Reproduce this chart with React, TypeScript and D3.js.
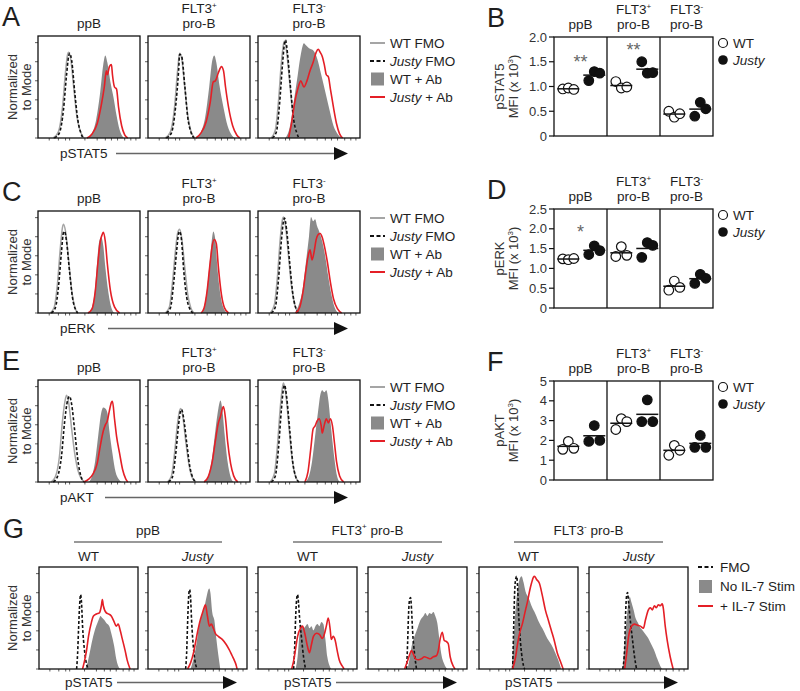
import React from 'react';
import * as d3 from 'd3';

type Pt = [number, number];

const FONT = "'Liberation Sans', Arial, Helvetica, sans-serif";
const INK = '#1e1e1e';
const FILL_GREY = '#8a8a8a';
const FMO_GREY = '#a5a5a5';
const RED = '#e41f26';

// ---------- Histogram data: [channel (0-100 across plot), % of mode (0-100 of plot height)] ----------
// Panel A (pSTAT5)
const aPpbWtFmo: Pt[] = [[15,0],[20,6],[24,30],[27,65],[29,82],[30,84],[32,78],[35,50],[38,22],[41,8],[45,0]];
const aPpbJuFmo: Pt[] = [[16,0],[21,5],[25,28],[28,62],[30,80],[31,83],[33,76],[36,45],[39,18],[42,5],[44,0]];
const aPpbWtAb: Pt[] = [[48,0],[53,5],[57,18],[61,45],[64,72],[66,81],[68,74],[71,55],[74,40],[77,22],[80,8],[84,0]];
const aPpbJuAb: Pt[] = [[48,0],[53,4],[58,14],[62,32],[65,50],[67,66],[68,62],[70,70],[72,72],[73,62],[75,50],[77,48],[79,30],[82,12],[85,3],[88,0]];
const aFltpWtFmo: Pt[] = [[17,0],[22,6],[26,30],[29,66],[31,83],[33,78],[36,50],[39,22],[42,7],[46,0]];
const aFltpJuFmo: Pt[] = [[18,0],[23,5],[27,30],[30,66],[31,82],[33,80],[36,52],[39,20],[42,6],[45,0]];
const aFltpWtAb: Pt[] = [[47,0],[52,6],[56,20],[60,50],[63,76],[65,81],[67,74],[70,52],[74,30],[78,12],[82,3],[85,0]];
const aFltpJuAb: Pt[] = [[47,0],[52,5],[57,16],[61,35],[64,55],[66,56],[69,64],[72,70],[74,66],[76,50],[79,30],[83,12],[87,3],[90,0]];
const aFltmWtFmo: Pt[] = [[13,0],[17,8],[20,35],[23,75],[25,92],[26,95],[28,85],[31,55],[34,25],[37,8],[40,0]];
const aFltmJuFmo: Pt[] = [[14,0],[18,6],[21,32],[24,72],[26,93],[27,96],[29,82],[32,48],[35,18],[38,5],[40,0]];
const aFltmWtAb: Pt[] = [[27,0],[31,10],[35,35],[39,62],[42,82],[45,93],[47,91],[50,88],[54,86],[58,78],[62,62],[66,45],[70,28],[74,12],[78,4],[82,0]];
const aFltmJuAb: Pt[] = [[30,0],[33,15],[36,35],[39,48],[42,56],[45,50],[48,56],[51,66],[54,74],[57,84],[59,87],[61,84],[63,80],[65,72],[67,62],[69,60],[71,48],[74,30],[77,14],[80,4],[83,0]];

// Panel C (pERK)
const cPpbWtFmo: Pt[] = [[12,0],[16,6],[19,28],[22,65],[24,84],[25,87],[27,80],[30,52],[33,22],[36,6],[39,0]];
const cPpbJuFmo: Pt[] = [[13,0],[17,5],[20,25],[23,60],[25,79],[26,80],[28,70],[31,40],[34,14],[37,3],[39,0]];
const cPpbWtAb: Pt[] = [[49,0],[53,6],[56,25],[58,50],[60,70],[62,74],[64,66],[66,45],[69,20],[72,5],[75,0]];
const cPpbJuAb: Pt[] = [[49,0],[53,4],[56,20],[59,52],[61,70],[63,77],[64,79],[66,70],[68,48],[71,22],[75,6],[80,0]];
const cFltpWtFmo: Pt[] = [[17,0],[21,6],[24,30],[27,62],[29,78],[31,82],[33,74],[36,45],[39,18],[42,5],[45,0]];
const cFltpJuFmo: Pt[] = [[18,0],[22,5],[25,28],[28,60],[30,78],[31,80],[33,70],[35,42],[38,15],[41,4],[44,0]];
const cFltpWtAb: Pt[] = [[52,0],[55,6],[58,25],[61,55],[63,75],[64,80],[66,72],[68,45],[71,18],[74,5],[78,0]];
const cFltpJuAb: Pt[] = [[52,0],[55,5],[58,22],[61,50],[63,66],[65,72],[67,68],[69,45],[72,18],[75,5],[79,0]];
const cFltmWtFmo: Pt[] = [[12,0],[16,8],[19,35],[22,75],[24,92],[25,94],[27,85],[30,55],[33,25],[36,8],[40,0]];
const cFltmJuFmo: Pt[] = [[13,0],[17,6],[20,32],[23,72],[25,90],[26,93],[28,82],[31,50],[34,20],[37,5],[40,0]];
const cFltmWtAb: Pt[] = [[36,0],[40,8],[44,25],[47,50],[50,75],[52,94],[54,90],[56,92],[58,85],[60,80],[63,70],[66,55],[69,35],[72,18],[75,6],[79,0]];
const cFltmJuAb: Pt[] = [[37,0],[41,6],[44,20],[47,42],[49,55],[51,62],[53,52],[55,60],[57,72],[59,77],[61,78],[63,74],[65,66],[68,50],[71,30],[74,14],[78,4],[82,0]];

// Panel E (pAKT)
const ePpbWtFmo: Pt[] = [[13,0],[17,5],[21,25],[24,60],[27,82],[28,85],[30,78],[33,52],[36,28],[39,12],[42,4],[46,0]];
const ePpbJuFmo: Pt[] = [[15,0],[19,5],[23,25],[26,58],[29,80],[31,84],[33,76],[36,50],[39,22],[42,6],[45,0]];
const ePpbWtAb: Pt[] = [[50,0],[53,6],[56,20],[59,45],[62,68],[64,73],[66,72],[68,68],[70,50],[73,28],[76,10],[79,3],[82,0]];
const ePpbJuAb: Pt[] = [[45,0],[50,3],[54,8],[58,18],[61,35],[64,50],[66,56],[68,60],[70,70],[72,78],[73,79],[75,62],[77,45],[80,28],[83,12],[86,3],[88,0]];
const eFltpWtFmo: Pt[] = [[19,0],[23,6],[26,28],[29,58],[31,70],[32,72],[34,65],[37,40],[40,18],[43,5],[47,0]];
const eFltpJuFmo: Pt[] = [[20,0],[24,5],[27,26],[30,56],[32,70],[33,71],[35,62],[38,38],[41,15],[44,4],[47,0]];
const eFltpWtAb: Pt[] = [[55,0],[59,6],[63,25],[66,50],[69,72],[71,80],[73,70],[75,48],[78,20],[81,5],[84,0]];
const eFltpJuAb: Pt[] = [[55,0],[59,5],[63,20],[66,40],[69,58],[71,64],[73,72],[74,74],[76,62],[78,40],[81,18],[84,6],[88,0]];
const eFltmWtFmo: Pt[] = [[12,0],[16,8],[19,35],[22,75],[24,93],[25,97],[27,88],[30,58],[33,26],[36,8],[40,0]];
const eFltmJuFmo: Pt[] = [[13,0],[17,6],[20,32],[23,72],[25,92],[26,95],[28,84],[31,52],[34,20],[37,5],[40,0]];
const eFltmWtAb: Pt[] = [[46,0],[50,6],[53,20],[56,45],[59,70],[61,85],[63,90],[65,88],[67,90],[69,80],[71,60],[73,40],[75,22],[77,8],[80,0]];
const eFltmJuAb: Pt[] = [[46,0],[49,10],[52,35],[54,52],[56,55],[58,60],[60,62],[62,55],[63,48],[65,56],[67,62],[69,58],[71,62],[73,55],[75,38],[77,20],[80,6],[84,0]];

// Panel G (pSTAT5, IL-7 stimulation)
const gPpbWtFmo: Pt[] = [[38,0],[39,15],[40,40],[41,62],[42,73],[43,64],[44,42],[46,18],[48,5],[50,0]];
const gPpbWtNo: Pt[] = [[46,0],[49,6],[51,15],[54,29],[57,40],[59,45],[61,50],[62,52],[64,50],[66,48],[68,45],[71,42],[73,35],[76,22],[78,10],[80,3],[82,0]];
const gPpbWtStim: Pt[] = [[44,0],[46,8],[48,18],[50,32],[53,46],[55,52],[58,54],[61,55],[63,62],[64,68],[65,62],[68,55],[70,54],[73,52],[76,46],[78,42],[80,44],[82,38],[84,30],[87,18],[89,9],[92,0]];
const gPpbJuFmo: Pt[] = [[38,0],[39,15],[40,45],[41,70],[42,78],[43,70],[44,48],[46,20],[48,5],[50,0]];
const gPpbJuNo: Pt[] = [[43,0],[46,10],[49,25],[52,45],[55,55],[57,61],[59,70],[61,78],[62,79],[63,75],[65,55],[67,48],[69,30],[71,14],[73,0]];
const gPpbJuStim: Pt[] = [[40,0],[43,6],[46,16],[48,26],[50,36],[52,45],[55,55],[57,61],[58,63],[60,52],[62,42],[64,44],[66,40],[68,35],[71,32],[75,29],[79,24],[82,19],[85,13],[87,9],[89,4],[90,0]];
const gFltpWtFmo: Pt[] = [[36,0],[37,20],[38,50],[39,68],[40,73],[41,64],[42,50],[44,30],[46,12],[48,0]];
const gFltpWtNo: Pt[] = [[38,0],[40,12],[42,35],[44,43],[46,40],[48,42],[50,44],[52,40],[54,42],[56,38],[58,42],[60,44],[62,42],[64,46],[66,44],[68,30],[70,12],[72,4],[74,0]];
const gFltpWtStim: Pt[] = [[34,0],[36,8],[38,20],[40,32],[43,40],[45,42],[47,36],[50,22],[52,16],[54,24],[56,32],[59,35],[62,34],[65,30],[67,34],[69,42],[71,50],[73,38],[74,29],[76,32],[78,28],[80,18],[82,9],[85,3],[87,0]];
const gFltpJuFmo: Pt[] = [[39,0],[40,25],[41,55],[42,68],[43,70],[44,58],[45,38],[47,15],[49,0]];
const gFltpJuNo: Pt[] = [[40,0],[42,10],[44,22],[47,32],[50,40],[53,48],[56,52],[58,55],[60,52],[62,55],[64,54],[66,56],[68,52],[70,45],[72,30],[74,15],[77,5],[80,0]];
const gFltpJuStim: Pt[] = [[37,0],[40,8],[42,14],[44,18],[46,14],[48,10],[51,9],[54,10],[57,12],[60,11],[63,10],[66,12],[69,13],[71,18],[73,30],[75,36],[77,28],[79,27],[81,25],[83,12],[86,3],[88,0]];
const gFltmWtFmo: Pt[] = [[34,0],[35,40],[36,75],[37,88],[38,91],[39,80],[40,55],[42,25],[44,8],[46,0]];
const gFltmWtNo: Pt[] = [[33,0],[35,30],[37,60],[39,78],[41,88],[43,91],[45,85],[47,76],[50,70],[53,62],[57,54],[61,45],[65,38],[69,30],[73,24],[77,16],[80,9],[83,0]];
const gFltmWtStim: Pt[] = [[34,0],[37,12],[39,25],[41,35],[44,45],[47,58],[49,66],[51,76],[53,84],[55,90],[56,91],[58,88],[61,84],[64,72],[67,58],[70,48],[73,38],[76,28],[79,16],[82,8],[85,0]];
const gFltmJuFmo: Pt[] = [[34,0],[36,20],[37,55],[38,72],[39,75],[40,65],[42,45],[44,28],[46,12],[48,0]];
const gFltmJuNo: Pt[] = [[34,0],[36,25],[38,50],[40,66],[41,71],[43,65],[45,58],[47,50],[49,46],[51,42],[54,38],[57,34],[60,30],[63,24],[66,18],[69,10],[72,3],[74,0]];
const gFltmJuStim: Pt[] = [[36,0],[38,15],[40,32],[43,42],[46,44],[49,43],[52,42],[55,40],[57,48],[60,58],[62,60],[64,58],[66,62],[68,60],[70,63],[72,62],[74,64],[75,60],[77,42],[79,28],[82,12],[85,0]];

// ---------- Dot plot data (MFI x 10^3) ----------
const cellTypes = ['ppB', 'FLT3+ pro-B', 'FLT3- pro-B'];
const bWt = [[0.95, 0.97, 0.94], [1.10, 0.97, 0.99], [0.50, 0.38, 0.45]];
const bJu = [[1.12, 1.30, 1.27], [1.50, 1.27, 1.28], [0.40, 0.68, 0.55]];
const dWt = [[1.24, 1.22, 1.25], [1.30, 1.55, 1.33], [0.45, 0.68, 0.52]];
const dJu = [[1.35, 1.57, 1.45], [1.28, 1.65, 1.58], [0.62, 0.85, 0.75]];
const fWt = [[1.55, 1.95, 1.60], [2.55, 3.10, 2.95], [1.25, 1.75, 1.50]];
const fJu = [[1.95, 2.75, 2.00], [2.95, 4.05, 2.95], [1.65, 2.25, 1.65]];
const bTicks = [0, 0.5, 1.0, 1.5, 2.0];
const dTicks = [0, 0.5, 1.0, 1.5, 2.0, 2.5];
const fTicks = [0, 1, 2, 3, 4, 5];
const bStars = [{ cat: 'ppB', y: 1.55, text: '**' }, { cat: 'FLT3+ pro-B', y: 1.8, text: '**' }];
const dStars = [{ cat: 'ppB', y: 2.0, text: '*' }];

const histLegend = ['WT FMO', 'Justy FMO', 'WT + Ab', 'Justy + Ab'];
const gLegend = ['FMO', 'No IL-7 Stim', '+ IL-7 Stim'];
const gGenotypes = ['WT', 'Justy', 'WT', 'Justy', 'WT', 'Justy'];

const yTickPct = [0, 18.7, 37.4, 56.1, 74.8, 93.5];
const xTickPct = [11, 20, 27, 31, 46, 58, 66, 72, 78, 85, 91, 96];

// ---------- helpers ----------
function CellTitle({ cx, top, label, size = 13.5 }: { cx: number; top: number; label: string; size?: number }) {
  if (label === 'ppB') {
    return <text x={cx} y={top - 8} textAnchor="middle" fontSize={size} fill={INK}>ppB</text>;
  }
  const sign = label[4];
  return (
    <g fill={INK} fontSize={size}>
      <text x={cx} y={top - 23} textAnchor="middle">FLT3<tspan fontSize={8} dy={-5}>{sign}</tspan></text>
      <text x={cx} y={top - 8} textAnchor="middle">pro-B</text>
    </g>
  );
}

type Curve = { data: Pt[]; kind: 'fill' | 'grey' | 'dash' | 'red' };

function Hist({ x0, y0, w, h, curves }: { x0: number; y0: number; w: number; h: number; curves: Curve[] }) {
  const sx = d3.scaleLinear().domain([0, 100]).range([x0, x0 + w]);
  const sy = d3.scaleLinear().domain([0, 100]).range([y0 + h, y0]);
  const line = d3.line<Pt>().x(d => sx(d[0])).y(d => sy(d[1])).curve(d3.curveMonotoneX);
  const area = d3.area<Pt>().x(d => sx(d[0])).y0(sy(0)).y1(d => sy(d[1])).curve(d3.curveMonotoneX);
  return (
    <g>
      {curves.map((c, i) => {
        if (c.kind === 'fill') return <path key={i} d={area(c.data) || ''} fill={FILL_GREY} stroke="none" />;
        if (c.kind === 'grey') return <path key={i} d={line(c.data) || ''} fill="none" stroke={FMO_GREY} strokeWidth={1.5} />;
        if (c.kind === 'dash') return <path key={i} d={line(c.data) || ''} fill="none" stroke="#111" strokeWidth={1.6} strokeDasharray="3,2" />;
        return <path key={i} d={line(c.data) || ''} fill="none" stroke={RED} strokeWidth={1.6} />;
      })}
      {yTickPct.map((t, i) => (
        <line key={'yt' + i} x1={x0 - 3} x2={x0} y1={sy(t)} y2={sy(t)} stroke="#333" strokeWidth={0.8} />
      ))}
      {xTickPct.map((t, i) => (
        <line key={'xt' + i} x1={sx(t)} x2={sx(t)} y1={y0 + h} y2={y0 + h + 2.5} stroke="#333" strokeWidth={0.8} />
      ))}
      <rect x={x0} y={y0} width={w} height={h} fill="none" stroke="#111" strokeWidth={1.3} />
    </g>
  );
}

function YLabel({ cy }: { cy: number }) {
  return (
    <g fontSize={13} fill="#333">
      <text transform={`translate(17,${cy}) rotate(-90)`} textAnchor="middle">Normalized</text>
      <text transform={`translate(31,${cy}) rotate(-90)`} textAnchor="middle">to Mode</text>
    </g>
  );
}

function AxisArrow({ x, y, label, lineStart, headEnd }: { x: number; y: number; label: string; lineStart: number; headEnd: number }) {
  const ay = y - 4.5;
  return (
    <g>
      <text x={x} y={y} fontSize={13.5} fill={INK}>{label}</text>
      <line x1={lineStart} x2={headEnd - 12} y1={ay} y2={ay} stroke="#666" strokeWidth={1.6} />
      <path d={`M${headEnd - 14},${ay - 6.5}L${headEnd},${ay}L${headEnd - 14},${ay + 6.5}Z`} fill="#111" />
    </g>
  );
}

function HistLegend({ top }: { top: number }) {
  const offs = [7, 25, 43, 61];
  return (
    <g fontSize={13.5} fill={INK}>
      {histLegend.map((lab, i) => {
        const y = top + offs[i];
        const parts = lab.split(' ');
        const italic = parts[0] === 'Justy';
        let sample;
        if (i === 0) sample = <line x1={370} x2={385} y1={y} y2={y} stroke={FMO_GREY} strokeWidth={2} />;
        else if (i === 1) sample = <line x1={370} x2={385} y1={y} y2={y} stroke="#111" strokeWidth={2} strokeDasharray="4,2.5" />;
        else if (i === 2) sample = <rect x={371} y={y - 6.5} width={13} height={13} fill={FILL_GREY} />;
        else sample = <line x1={370} x2={385} y1={y} y2={y} stroke={RED} strokeWidth={2} />;
        return (
          <g key={lab}>
            {sample}
            <text x={390} y={y + 5}>
              {italic ? <tspan fontStyle="italic">Justy</tspan> : <tspan>{parts[0]}</tspan>}
              <tspan>{' ' + parts.slice(1).join(' ')}</tspan>
            </text>
          </g>
        );
      })}
    </g>
  );
}

const histLefts = [38, 148, 258];
const histW = 102;
const histH = 102;

function HistRow({ top, letter, label, lineStart, rows }: { top: number; letter: string; label: string; lineStart: number; rows: Curve[][] }) {
  return (
    <g>
      <text x={2} y={top - 10} fontSize={27} fill={INK}>{letter}</text>
      {cellTypes.map((c, i) => (
        <CellTitle key={c} cx={histLefts[i] + histW / 2} top={top} label={c} />
      ))}
      {rows.map((curves, i) => (
        <Hist key={i} x0={histLefts[i]} y0={top} w={histW} h={histH} curves={curves} />
      ))}
      <YLabel cy={top + histH / 2} />
      <AxisArrow x={60} y={top + histH + 20} label={label} lineStart={lineStart} headEnd={348} />
      <HistLegend top={top} />
    </g>
  );
}

function DotPanel({ top, letter, yMax, ticks, fmt, label, wt, ju, stars }: {
  top: number; letter: string; yMax: number; ticks: number[]; fmt: (v: number) => string; label: string;
  wt: number[][]; ju: number[][]; stars: { cat: string; y: number; text: string }[];
}) {
  const left = 554, right = 713, h = 99;
  const y = d3.scaleLinear().domain([0, yMax]).range([top + h, top]);
  const x = d3.scaleBand<string>().domain(cellTypes).range([left, right]);
  const bw = x.bandwidth();
  const jitter = [-5.5, 0, 5.5];
  const groups = [
    { vals: wt, off: 0.27, open: true },
    { vals: ju, off: 0.76, open: false },
  ];
  return (
    <g>
      <text x={487} y={top - 10} fontSize={27} fill={INK}>{letter}</text>
      {cellTypes.map(c => (
        <CellTitle key={c} cx={(x(c) as number) + bw / 2} top={top} label={c} />
      ))}
      {ticks.map(t => (
        <g key={t}>
          <line x1={left - 5} x2={left} y1={y(t)} y2={y(t)} stroke="#111" strokeWidth={1.2} />
          <text x={left - 7} y={y(t)} dy="0.35em" textAnchor="end" fontSize={13} fill="#333">{fmt(t)}</text>
        </g>
      ))}
      <g fontSize={13} fill="#333">
        <text transform={`translate(504,${top + h / 2}) rotate(-90)`} textAnchor="middle">{label}</text>
        <text transform={`translate(518,${top + h / 2}) rotate(-90)`} textAnchor="middle">
          MFI (x 10<tspan fontSize={8} dy={-5}>3</tspan><tspan dy={5}>)</tspan>
        </text>
      </g>
      {groups.map((g, gi) =>
        cellTypes.map((c, ci) => {
          const cx = (x(c) as number) + bw * g.off;
          const m = d3.mean(g.vals[ci]) as number;
          return (
            <g key={gi + '-' + c}>
              {g.vals[ci].map((v, k) => (
                <circle key={k} cx={cx + jitter[k]} cy={y(v)} r={4.8}
                  fill={g.open ? '#fff' : '#111'} stroke="#111" strokeWidth={1.2} />
              ))}
              <line x1={cx - 11} x2={cx + 11} y1={y(m)} y2={y(m)} stroke="#111" strokeWidth={1.5} />
            </g>
          );
        })
      )}
      {stars.map((s, i) => (
        <text key={i} x={(x(s.cat) as number) + bw / 2} y={y(s.y) + 9} textAnchor="middle" fontSize={18} fill="#666">{s.text}</text>
      ))}
      <rect x={left} y={top} width={right - left} height={h} fill="none" stroke="#111" strokeWidth={1.3} />
      {cellTypes.slice(1).map(c => (
        <line key={c} x1={x(c) as number} x2={x(c) as number} y1={top} y2={top + h} stroke="#111" strokeWidth={1.3} />
      ))}
      <g fontSize={13.5} fill={INK}>
        <circle cx={723} cy={top + 6} r={4.5} fill="#fff" stroke="#111" strokeWidth={1.2} />
        <text x={733} y={top + 11}>WT</text>
        <circle cx={723} cy={top + 23} r={4.8} fill="#111" />
        <text x={733} y={top + 28} fontStyle="italic">Justy</text>
      </g>
    </g>
  );
}

const gLefts = [39, 148, 258, 368, 479, 589];
const gW = 99;
const gTop = 567;
const gH = 102;

function PanelG() {
  const panels: Curve[][] = [
    [{ data: gPpbWtNo, kind: 'fill' }, { data: gPpbWtFmo, kind: 'dash' }, { data: gPpbWtStim, kind: 'red' }],
    [{ data: gPpbJuNo, kind: 'fill' }, { data: gPpbJuFmo, kind: 'dash' }, { data: gPpbJuStim, kind: 'red' }],
    [{ data: gFltpWtNo, kind: 'fill' }, { data: gFltpWtFmo, kind: 'dash' }, { data: gFltpWtStim, kind: 'red' }],
    [{ data: gFltpJuNo, kind: 'fill' }, { data: gFltpJuFmo, kind: 'dash' }, { data: gFltpJuStim, kind: 'red' }],
    [{ data: gFltmWtNo, kind: 'fill' }, { data: gFltmWtFmo, kind: 'dash' }, { data: gFltmWtStim, kind: 'red' }],
    [{ data: gFltmJuNo, kind: 'fill' }, { data: gFltmJuFmo, kind: 'dash' }, { data: gFltmJuStim, kind: 'red' }],
  ];
  return (
    <g>
      <text x={3} y={538} fontSize={27} fill={INK}>G</text>
      {cellTypes.map((c, gi) => {
        const a = gLefts[gi * 2] + 35;
        const b = gLefts[gi * 2 + 1] + gW - 25;
        const mid = (a + b) / 2;
        const sign = c[4];
        return (
          <g key={c}>
            <text x={mid} y={535} textAnchor="middle" fontSize={13.5} fill={INK}>
              {c === 'ppB' ? 'ppB' : <>FLT3<tspan fontSize={8} dy={-6}>{sign}</tspan><tspan dy={6}>{' pro-B'}</tspan></>}
            </text>
            <line x1={a} x2={b} y1={542} y2={542} stroke="#777" strokeWidth={1.3} />
            <AxisArrow x={gLefts[gi * 2] + 26} y={687} label="pSTAT5" lineStart={gLefts[gi * 2] + 78}
              headEnd={gLefts[gi * 2 + 1] + gW - 10} />
          </g>
        );
      })}
      {panels.map((curves, i) => (
        <g key={i}>
          <text x={gLefts[i] + gW / 2} y={gTop - 6} textAnchor="middle" fontSize={13.5} fill={INK}
            fontStyle={gGenotypes[i] === 'Justy' ? 'italic' : 'normal'}>{gGenotypes[i]}</text>
          <Hist x0={gLefts[i]} y0={gTop} w={gW} h={gH} curves={curves} />
        </g>
      ))}
      <YLabel cy={gTop + gH / 2} />
      <g fontSize={13.5} fill={INK}>
        <line x1={698} x2={713} y1={567} y2={567} stroke="#111" strokeWidth={2} strokeDasharray="4,2.5" />
        <text x={720} y={572}>{gLegend[0]}</text>
        <rect x={699} y={580} width={13} height={13} fill={FILL_GREY} />
        <text x={720} y={591}>{gLegend[1]}</text>
        <line x1={698} x2={713} y1={606} y2={606} stroke={RED} strokeWidth={2} />
        <text x={720} y={611}>{gLegend[2]}</text>
      </g>
    </g>
  );
}

export default function App() {
  const rowA: Curve[][] = [
    [{ data: aPpbWtAb, kind: 'fill' }, { data: aPpbWtFmo, kind: 'grey' }, { data: aPpbJuFmo, kind: 'dash' }, { data: aPpbJuAb, kind: 'red' }],
    [{ data: aFltpWtAb, kind: 'fill' }, { data: aFltpWtFmo, kind: 'grey' }, { data: aFltpJuFmo, kind: 'dash' }, { data: aFltpJuAb, kind: 'red' }],
    [{ data: aFltmWtAb, kind: 'fill' }, { data: aFltmWtFmo, kind: 'grey' }, { data: aFltmJuFmo, kind: 'dash' }, { data: aFltmJuAb, kind: 'red' }],
  ];
  const rowC: Curve[][] = [
    [{ data: cPpbWtAb, kind: 'fill' }, { data: cPpbWtFmo, kind: 'grey' }, { data: cPpbJuFmo, kind: 'dash' }, { data: cPpbJuAb, kind: 'red' }],
    [{ data: cFltpWtAb, kind: 'fill' }, { data: cFltpWtFmo, kind: 'grey' }, { data: cFltpJuFmo, kind: 'dash' }, { data: cFltpJuAb, kind: 'red' }],
    [{ data: cFltmWtAb, kind: 'fill' }, { data: cFltmWtFmo, kind: 'grey' }, { data: cFltmJuFmo, kind: 'dash' }, { data: cFltmJuAb, kind: 'red' }],
  ];
  const rowE: Curve[][] = [
    [{ data: ePpbWtAb, kind: 'fill' }, { data: ePpbWtFmo, kind: 'grey' }, { data: ePpbJuFmo, kind: 'dash' }, { data: ePpbJuAb, kind: 'red' }],
    [{ data: eFltpWtAb, kind: 'fill' }, { data: eFltpWtFmo, kind: 'grey' }, { data: eFltpJuFmo, kind: 'dash' }, { data: eFltpJuAb, kind: 'red' }],
    [{ data: eFltmWtAb, kind: 'fill' }, { data: eFltmWtFmo, kind: 'grey' }, { data: eFltmJuFmo, kind: 'dash' }, { data: eFltmJuAb, kind: 'red' }],
  ];
  const fmt1 = (v: number) => (v === 0 ? '0' : v.toFixed(1));
  const fmt0 = (v: number) => String(v);
  return (
    <svg width={800} height={691} viewBox="0 0 800 691"
      style={{ position: 'absolute', left: 0, top: 0, background: '#fff', fontFamily: FONT }}>
      <rect x={0} y={0} width={800} height={691} fill="#fff" />
      <HistRow top={36} letter="A" label="pSTAT5" lineStart={116} rows={rowA} />
      <HistRow top={211} letter="C" label="pERK" lineStart={108} rows={rowC} />
      <HistRow top={380} letter="E" label="pAKT" lineStart={105} rows={rowE} />
      <DotPanel top={37} letter="B" yMax={2.0} ticks={bTicks} fmt={fmt1} label="pSTAT5" wt={bWt} ju={bJu} stars={bStars} />
      <DotPanel top={209} letter="D" yMax={2.5} ticks={dTicks} fmt={fmt1} label="pERK" wt={dWt} ju={dJu} stars={dStars} />
      <DotPanel top={381} letter="F" yMax={5} ticks={fTicks} fmt={fmt0} label="pAKT" wt={fWt} ju={fJu} stars={[]} />
      <PanelG />
    </svg>
  );
}
